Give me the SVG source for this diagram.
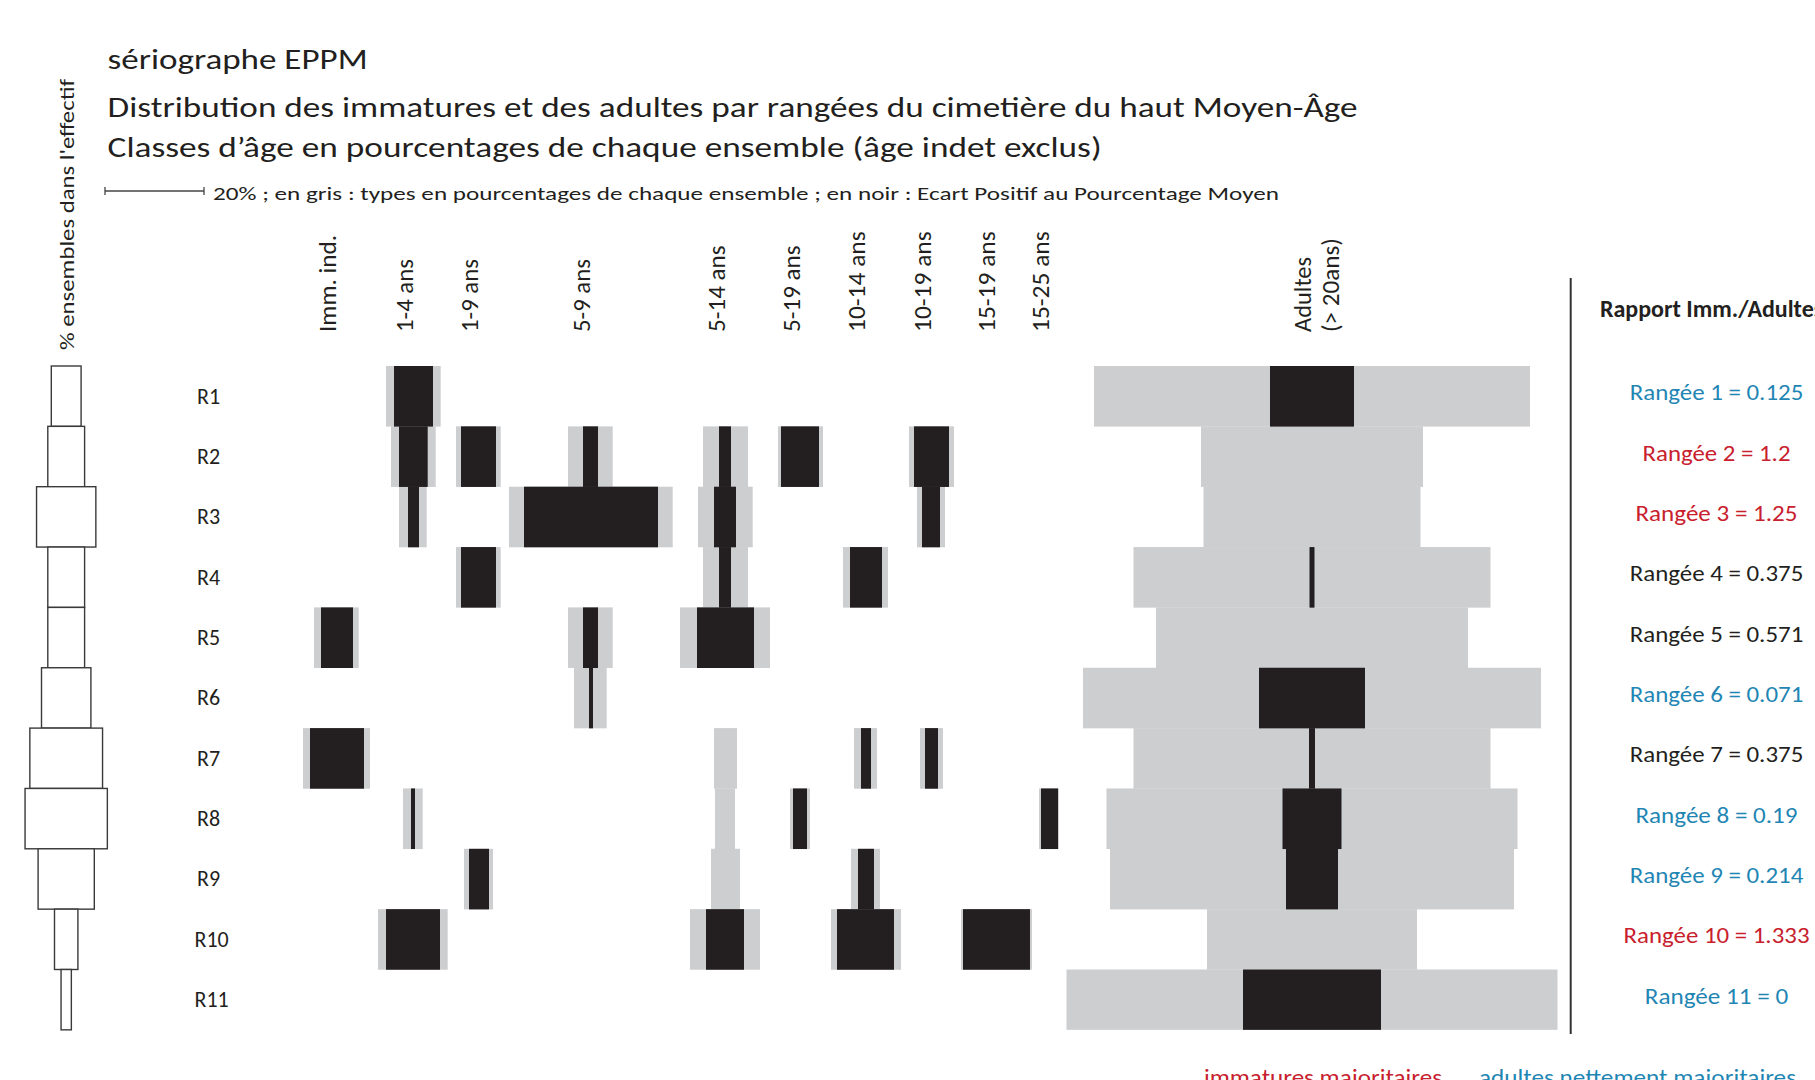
<svg xmlns="http://www.w3.org/2000/svg" width="1815" height="1080" viewBox="0 0 1815 1080">
<style>
text{font-family:"Carlito","Open Sans","Liberation Sans",sans-serif;fill:#231f20}
.t{font-size:29px}
.lg{font-size:19px}
.col{font-size:24px}
.rl{font-size:22px}
.ra{font-size:22px;text-anchor:middle}
.hd{font-size:24px;font-weight:bold}
.blue{fill:#1f86b4}
.red{fill:#c8202d}
.g{fill:#cdced0}
.b{fill:#231f20}
.box{fill:#fff;stroke:#3a3a3a;stroke-width:1.4}
</style>
<rect width="1815" height="1080" fill="#fff"/>
<g id="titles">
<text class="t" x="107.6" y="68.5" textLength="260" lengthAdjust="spacingAndGlyphs">sériographe EPPM</text>
<text class="t" x="107.6" y="117.3" textLength="1250" lengthAdjust="spacingAndGlyphs">Distribution des immatures et des adultes par rangées du cimetière du haut Moyen-Âge</text>
<text class="t" x="107.6" y="157" textLength="994" lengthAdjust="spacingAndGlyphs">Classes d’âge en pourcentages de chaque ensemble (âge indet exclus)</text>
<g id="scale-bar" stroke="#444" stroke-width="1.3">
<line x1="105" y1="191" x2="204" y2="191"/>
<line x1="105" y1="187" x2="105" y2="195"/>
<line x1="204" y1="187" x2="204" y2="195"/>
</g>
<text class="lg" x="213" y="200" textLength="1066" lengthAdjust="spacingAndGlyphs">20% ; en gris : types en pourcentages de chaque ensemble ; en noir : Ecart Positif au Pourcentage Moyen</text>
<text font-size="21" transform="translate(74,350) rotate(-90)" textLength="271" lengthAdjust="spacingAndGlyphs">% ensembles dans l'effectif</text>
</g>
<g id="column-labels">
<text class="col" transform="translate(336,332) rotate(-90)" textLength="97" lengthAdjust="spacingAndGlyphs">Imm. ind.</text>
<text class="col" transform="translate(413,332) rotate(-90)" textLength="73" lengthAdjust="spacingAndGlyphs">1-4 ans</text>
<text class="col" transform="translate(478,332) rotate(-90)" textLength="73" lengthAdjust="spacingAndGlyphs">1-9 ans</text>
<text class="col" transform="translate(590,332) rotate(-90)" textLength="73" lengthAdjust="spacingAndGlyphs">5-9 ans</text>
<text class="col" transform="translate(725,332) rotate(-90)" textLength="86.6" lengthAdjust="spacingAndGlyphs">5-14 ans</text>
<text class="col" transform="translate(799.5,332) rotate(-90)" textLength="86.6" lengthAdjust="spacingAndGlyphs">5-19 ans</text>
<text class="col" transform="translate(865,332) rotate(-90)" textLength="100.7" lengthAdjust="spacingAndGlyphs">10-14 ans</text>
<text class="col" transform="translate(930.5,332) rotate(-90)" textLength="100.7" lengthAdjust="spacingAndGlyphs">10-19 ans</text>
<text class="col" transform="translate(995,332) rotate(-90)" textLength="100.7" lengthAdjust="spacingAndGlyphs">15-19 ans</text>
<text class="col" transform="translate(1049,332) rotate(-90)" textLength="100.7" lengthAdjust="spacingAndGlyphs">15-25 ans</text>
<text class="col" transform="translate(1311,332) rotate(-90)" textLength="75" lengthAdjust="spacingAndGlyphs">Adultes</text>
<text class="col" transform="translate(1339,332) rotate(-90)" textLength="94" lengthAdjust="spacingAndGlyphs">(&gt; 20ans)</text>
</g>
<g id="effectif-stack">
<rect class="box" x="51.3" y="366" width="29.8" height="60.35"/>
<rect class="box" x="47.8" y="426.35" width="36.8" height="60.35"/>
<rect class="box" x="36.55" y="486.7" width="59.3" height="60.35"/>
<rect class="box" x="47.8" y="547.05" width="36.8" height="60.35"/>
<rect class="box" x="47.8" y="607.4" width="36.8" height="60.35"/>
<rect class="box" x="41.5" y="667.75" width="49.4" height="60.35"/>
<rect class="box" x="29.85" y="728.1" width="72.7" height="60.35"/>
<rect class="box" x="25.05" y="788.45" width="82.3" height="60.35"/>
<rect class="box" x="38.1" y="848.8" width="56.2" height="60.35"/>
<rect class="box" x="54.5" y="909.15" width="23.4" height="60.35"/>
<rect class="box" x="61.05" y="969.5" width="10.3" height="60.35"/>
</g>
<g id="row-labels">
<text class="rl" x="197" y="403.5">R1</text>
<text class="rl" x="197" y="463.8">R2</text>
<text class="rl" x="197" y="524.2">R3</text>
<text class="rl" x="197" y="584.5">R4</text>
<text class="rl" x="197" y="644.9">R5</text>
<text class="rl" x="197" y="705.2">R6</text>
<text class="rl" x="197" y="765.6">R7</text>
<text class="rl" x="197" y="825.9">R8</text>
<text class="rl" x="197" y="886.3">R9</text>
<text class="rl" x="194.5" y="946.6">R10</text>
<text class="rl" x="194.5" y="1007">R11</text>
</g>
<g id="bars-grey">
<rect class="g" x="386" y="366" width="54.7" height="60.6"/>
<rect class="g" x="1094" y="366" width="436" height="60.6"/>

<rect class="g" x="391" y="426.35" width="44.7" height="60.6"/>
<rect class="g" x="456" y="426.35" width="44.7" height="60.6"/>
<rect class="g" x="568" y="426.35" width="44.7" height="60.6"/>
<rect class="g" x="703" y="426.35" width="45" height="60.6"/>
<rect class="g" x="778" y="426.35" width="45" height="60.6"/>
<rect class="g" x="909" y="426.35" width="45" height="60.6"/>
<rect class="g" x="1201" y="426.35" width="222" height="60.6"/>

<rect class="g" x="399" y="486.7" width="27.7" height="60.6"/>
<rect class="g" x="509" y="486.7" width="163.7" height="60.6"/>
<rect class="g" x="698" y="486.7" width="54.7" height="60.6"/>
<rect class="g" x="917" y="486.7" width="28" height="60.6"/>
<rect class="g" x="1203.5" y="486.7" width="217" height="60.6"/>

<rect class="g" x="456" y="547.05" width="44.7" height="60.6"/>
<rect class="g" x="703" y="547.05" width="45" height="60.6"/>
<rect class="g" x="843" y="547.05" width="45" height="60.6"/>
<rect class="g" x="1133.5" y="547.05" width="357" height="60.6"/>

<rect class="g" x="314" y="607.4" width="44.7" height="60.6"/>
<rect class="g" x="568" y="607.4" width="44.7" height="60.6"/>
<rect class="g" x="680" y="607.4" width="90" height="60.6"/>
<rect class="g" x="1156" y="607.4" width="312" height="60.6"/>

<rect class="g" x="574" y="667.75" width="32.7" height="60.6"/>
<rect class="g" x="1083" y="667.75" width="458" height="60.6"/>

<rect class="g" x="303" y="728.1" width="67" height="60.6"/>
<rect class="g" x="714" y="728.1" width="23" height="60.6"/>
<rect class="g" x="854" y="728.1" width="23" height="60.6"/>
<rect class="g" x="920" y="728.1" width="23" height="60.6"/>
<rect class="g" x="1133.5" y="728.1" width="357" height="60.6"/>

<rect class="g" x="403" y="788.45" width="19.7" height="60.6"/>
<rect class="g" x="715" y="788.45" width="20" height="60.6"/>
<rect class="g" x="790" y="788.45" width="20" height="60.6"/>
<rect class="g" x="1039" y="788.45" width="20" height="60.6"/>
<rect class="g" x="1106.5" y="788.45" width="411" height="60.6"/>

<rect class="g" x="464" y="848.8" width="29" height="60.6"/>
<rect class="g" x="711" y="848.8" width="29" height="60.6"/>
<rect class="g" x="851" y="848.8" width="29" height="60.6"/>
<rect class="g" x="1110" y="848.8" width="404" height="60.6"/>

<rect class="g" x="378" y="909.15" width="69.7" height="60.6"/>
<rect class="g" x="690" y="909.15" width="70" height="60.6"/>
<rect class="g" x="831" y="909.15" width="70" height="60.6"/>
<rect class="g" x="961" y="909.15" width="71" height="60.6"/>
<rect class="g" x="1207" y="909.15" width="210" height="60.6"/>

<rect class="g" x="1066.5" y="969.5" width="491" height="60.35"/>
</g>
<g id="bars-black">
<rect class="b" x="394" y="366" width="39" height="60.6"/>
<rect class="b" x="1270" y="366" width="84" height="60.6"/>

<rect class="b" x="399" y="426.35" width="28.7" height="60.6"/>
<rect class="b" x="461" y="426.35" width="35" height="60.6"/>
<rect class="b" x="583" y="426.35" width="15" height="60.6"/>
<rect class="b" x="719" y="426.35" width="12" height="60.6"/>
<rect class="b" x="781" y="426.35" width="38" height="60.6"/>
<rect class="b" x="914" y="426.35" width="35" height="60.6"/>

<rect class="b" x="408" y="486.7" width="11" height="60.6"/>
<rect class="b" x="524" y="486.7" width="134" height="60.6"/>
<rect class="b" x="714" y="486.7" width="22" height="60.6"/>
<rect class="b" x="922" y="486.7" width="18" height="60.6"/>

<rect class="b" x="461" y="547.05" width="35" height="60.6"/>
<rect class="b" x="719" y="547.05" width="12" height="60.6"/>
<rect class="b" x="850" y="547.05" width="32" height="60.6"/>
<rect class="b" x="1309.5" y="547.05" width="5" height="60.6"/>

<rect class="b" x="321" y="607.4" width="32" height="60.6"/>
<rect class="b" x="583" y="607.4" width="15" height="60.6"/>
<rect class="b" x="697" y="607.4" width="57" height="60.6"/>

<rect class="b" x="589" y="667.75" width="4" height="60.6"/>
<rect class="b" x="1259" y="667.75" width="106" height="60.6"/>

<rect class="b" x="310" y="728.1" width="54" height="60.6"/>
<rect class="b" x="861" y="728.1" width="10" height="60.6"/>
<rect class="b" x="925" y="728.1" width="13" height="60.6"/>
<rect class="b" x="1309" y="728.1" width="6" height="60.6"/>

<rect class="b" x="411" y="788.45" width="4" height="60.6"/>
<rect class="b" x="793" y="788.45" width="14" height="60.6"/>
<rect class="b" x="1041" y="788.45" width="17" height="60.6"/>
<rect class="b" x="1282.5" y="788.45" width="59" height="60.6"/>

<rect class="b" x="469" y="848.8" width="20" height="60.6"/>
<rect class="b" x="858" y="848.8" width="16" height="60.6"/>
<rect class="b" x="1286" y="848.8" width="52" height="60.6"/>

<rect class="b" x="386" y="909.15" width="54" height="60.6"/>
<rect class="b" x="706" y="909.15" width="38" height="60.6"/>
<rect class="b" x="837" y="909.15" width="57" height="60.6"/>
<rect class="b" x="963" y="909.15" width="67" height="60.6"/>

<rect class="b" x="1243" y="969.5" width="138" height="60.35"/>
</g>
<g id="ratios">
<line x1="1570.7" y1="278" x2="1570.7" y2="1034" stroke="#333" stroke-width="2"/>
<text class="hd" x="1600" y="317">Rapport Imm./Adultes</text>
<text class="ra blue" x="1716.5" y="400.2" textLength="173.6" lengthAdjust="spacingAndGlyphs">Rangée 1 = 0.125</text>
<text class="ra red" x="1716.5" y="460.5" textLength="148" lengthAdjust="spacingAndGlyphs">Rangée 2 = 1.2</text>
<text class="ra red" x="1716.5" y="520.9" textLength="162" lengthAdjust="spacingAndGlyphs">Rangée 3 = 1.25</text>
<text class="ra" x="1716.5" y="581.2" textLength="173.6" lengthAdjust="spacingAndGlyphs">Rangée 4 = 0.375</text>
<text class="ra" x="1716.5" y="641.6" textLength="173.6" lengthAdjust="spacingAndGlyphs">Rangée 5 = 0.571</text>
<text class="ra blue" x="1716.5" y="701.9" textLength="173.6" lengthAdjust="spacingAndGlyphs">Rangée 6 = 0.071</text>
<text class="ra" x="1716.5" y="762.3" textLength="173.6" lengthAdjust="spacingAndGlyphs">Rangée 7 = 0.375</text>
<text class="ra blue" x="1716.5" y="822.6" textLength="162" lengthAdjust="spacingAndGlyphs">Rangée 8 = 0.19</text>
<text class="ra blue" x="1716.5" y="883" textLength="173.6" lengthAdjust="spacingAndGlyphs">Rangée 9 = 0.214</text>
<text class="ra red" x="1716.5" y="943.3" textLength="186" lengthAdjust="spacingAndGlyphs">Rangée 10 = 1.333</text>
<text class="ra blue" x="1716.5" y="1003.7" textLength="143.5" lengthAdjust="spacingAndGlyphs">Rangée 11 = 0</text>
</g>
<g id="legend">
<text class="rl red" x="1204" y="1085" textLength="238" lengthAdjust="spacingAndGlyphs">immatures majoritaires</text>
<text class="rl blue" x="1479" y="1085" textLength="317" lengthAdjust="spacingAndGlyphs">adultes nettement majoritaires</text>
</g>
</svg>
